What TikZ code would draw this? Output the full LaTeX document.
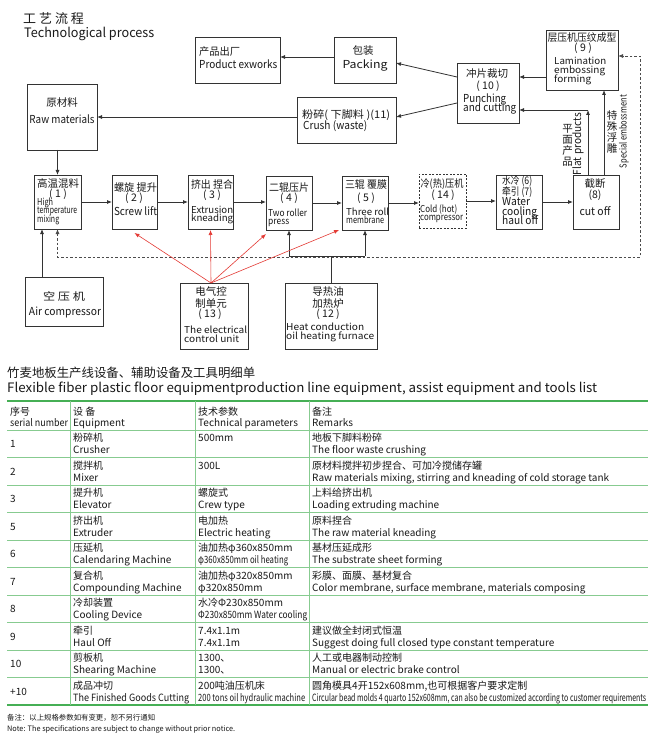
\documentclass[tikz,border=0pt]{standalone}
\usepackage{fontspec}
\setmainfont{Noto Sans CJK SC}
\usepackage{graphicx}
\usetikzlibrary{arrows.meta}
\definecolor{ared}{RGB}{228,58,52}
\definecolor{tgreen}{RGB}{70,175,85}
\definecolor{ink}{RGB}{25,25,25}
\newcommand\fitw[2]{\resizebox{#1pt}{\height}{#2}}
\newcommand\mybox[6][]{\node[bx,#1,minimum width={#5-#3},minimum height={#6-#4}] (#2) at (#3,#4) {};}
\newcommand\tline[5][]{\node[tx,#1] (#2) at (#3,#4) {#5};}
\newcommand\trow[9]{%
 \node[ten] (#1n) at (10,{#2+17.5}) {#3};
 \node[tcn] (#1a) at (73,{#2+11.5}) {#4};
 \node[ten] (#1b) at (73,{#2+23.5}) {#5};
 \node[tcn] (#1c) at (198,{#2+11.5}) {#6};
 \node[ten] (#1d) at (198,{#2+23.5}) {#7};
 \node[tcn] (#1e) at (312,{#2+11.5}) {#8};
 \node[ten] (#1f) at (312,{#2+23.5}) {#9};
}
\tikzset{
 bx/.style={draw=black!80, line width=0.9pt, inner sep=0pt, outer sep=0pt, anchor=north west},
 dbx/.style={dash pattern=on 2pt off 1.5pt},
 tx/.style={inner sep=0pt, anchor=base, text=ink, font=\fontsize{10.5}{12}\selectfont},
 txl/.style={anchor=base west},
 et/.style={font=\fontsize{11}{12}\selectfont},
 etl/.style={et, anchor=base west},
 es/.style={font=\fontsize{9.5}{10}\selectfont},
 esl/.style={es, anchor=base west},
 arr/.style={draw=black!80, line width=0.8pt, -{Latex[length=5pt,width=4pt]}},
 plain/.style={draw=black!80, line width=0.8pt},
 rarr/.style={draw=ared, line width=0.6pt, -{Latex[length=5pt,width=4pt]}},
 darr/.style={draw=black!70, line width=0.8pt, dash pattern=on 2.5pt off 2pt, {Latex[length=5pt,width=4pt]}-{Latex[length=5pt,width=4pt]}},
 gthick/.style={draw=tgreen, line width=1.6pt},
 gthin/.style={draw=tgreen!65, line width=0.7pt},
 tcn/.style={tx, anchor=base west, font=\fontsize{10}{11}\selectfont},
 ten/.style={tx, anchor=base west, font=\fontsize{10}{11}\selectfont},
}
\begin{document}
\begin{tikzpicture}[x=1pt,y=-1pt]
\fill[white] (0,0) rectangle (650,743);
\path[use as bounding box] (0,0) rectangle (650,743);

% titles
\tline[txl,font=\fontsize{13}{14}\selectfont]{ttlA}{23}{24}{工 艺 流 程}
\tline[txl,font=\fontsize{13}{14}\selectfont]{ttlB}{24}{37.5}{\fitw{130}{Technological process}}

% top boxes
\mybox{prod}{195}{37}{280}{83}
\tline[txl]{prodA}{199}{56}{\fitw{41}{产品出厂}}
\tline[etl]{prodB}{199}{69}{\fitw{78}{Product exworks}}

\mybox{pack}{334}{37}{396}{83}
\tline{packA}{363}{55}{包装}
\tline[et]{packB}{365}{69}{\fitw{45}{Packing}}

\mybox{lam}{546}{30}{618}{90}
\tline{lamA}{582}{42}{\fitw{69}{层压机压纹成型}}
\tline{lamB}{583}{51.5}{( 9 )}
\tline[esl]{lamC}{554}{64.5}{\fitw{52}{Lamination}}
\tline[esl]{lamD}{554}{73.5}{\fitw{51}{embossing}}
\tline[esl]{lamE}{554}{82.5}{\fitw{37}{forming}}

\mybox{punch}{457}{63}{519}{123}
\tline{punA}{487}{78}{冲片裁切}
\tline{punB}{488}{90}{( 10 )}
\tline[etl]{punC}{463}{102.5}{\fitw{43}{Punching}}
\tline[etl]{punD}{463}{112}{\fitw{53}{and cutting}}

\mybox{crush}{297}{97}{396}{143}
\tline[txl]{cruA}{302}{119}{\fitw{88}{粉碎( 下脚料 )(11)}}
\tline[etl]{cruB}{303}{130}{\fitw{64}{Crush (waste)}}

\mybox{raw}{27}{84}{97}{150}
\tline{rawA}{62}{107}{原材料}
\tline[et]{rawB}{62}{124}{\fitw{65}{Raw materials}}

% middle row
\mybox{b1}{34}{175}{81}{229}
\tline{b1A}{58}{188}{\fitw{42}{高温混料}}
\tline{b1B}{58}{197}{( 1 )}
\tline[esl]{b1C}{37}{205.5}{\fitw{16}{High}}
\tline[esl]{b1D}{37}{214}{\fitw{40}{temperature}}
\tline[esl]{b1E}{37}{222.5}{\fitw{22}{mixing}}

\mybox{b2}{112}{175}{157}{229}
\tline{b2A}{135.5}{191}{\fitw{43}{螺旋 提升}}
\tline{b2B}{134}{202}{( 2 )}
\tline[et]{b2C}{135.5}{216}{\fitw{43}{Screw lift}}

\mybox{b3}{188}{175}{233}{229}
\tline{b3A}{212}{189}{\fitw{42}{挤出 捏合}}
\tline{b3B}{212}{199}{( 3 )}
\tline[esl]{b3C}{191}{213.5}{\fitw{42}{Extrusion}}
\tline[esl]{b3D}{191}{222}{\fitw{42}{kneading}}

\mybox{b4}{266}{176}{312}{230}
\tline{b4A}{289}{191}{\fitw{40}{二辊压片}}
\tline{b4B}{289}{202}{( 4 )}
\tline[esl]{b4C}{268}{217}{\fitw{39}{Two roller}}
\tline[esl]{b4D}{268}{225}{\fitw{21}{press}}

\mybox{b5}{342}{176}{388}{230}
\tline{b5A}{366}{189}{\fitw{42}{三辊 覆膜}}
\tline{b5B}{366}{201}{( 5 )}
\tline[esl]{b5C}{346}{215}{\fitw{43}{Three roll}}
\tline[esl]{b5D}{346}{223}{\fitw{38}{membrane}}

\mybox[dbx]{b14}{419}{174}{466}{228}
\tline{b14A}{442}{188}{\fitw{43}{冷(热)压机}}
\tline{b14B}{443}{199}{( 14 )}
\tline[esl]{b14C}{420}{213}{\fitw{37}{Cold (hot)}}
\tline[esl]{b14D}{420}{221}{\fitw{43}{compressor}}

\mybox{b67}{496}{175}{542}{229}
\tline[txl]{b67A}{502}{185}{\fitw{30}{水冷 (6)}}
\tline[txl]{b67B}{502}{196}{\fitw{30}{牵引 (7)}}
\tline[etl]{b67C}{502}{206}{\fitw{28}{Water}}
\tline[etl]{b67D}{502}{215.5}{\fitw{35}{cooling}}
\tline[etl]{b67E}{502}{225}{\fitw{36}{haul off}}

\mybox{b8}{573}{175}{619}{229}
\tline{b8A}{595}{188}{截断}
\tline{b8B}{595}{199}{(8)}
\tline[et]{b8C}{595}{215}{\fitw{31}{cut off}}

% bottom boxes
\mybox{air}{25}{277}{103}{326}
\tline{airA}{64}{300}{\fitw{42}{空 压 机}}
\tline[et]{airB}{65}{315}{\fitw{72}{Air compressor}}

\mybox{ecu}{180}{283}{248}{349}
\tline{ecuA}{211}{295}{电气控}
\tline{ecuB}{211}{307}{制单元}
\tline{ecuC}{210}{317}{( 13 )}
\tline[esl]{ecuD}{184}{333.5}{\fitw{63}{The electrical}}
\tline[esl]{ecuE}{184}{342}{\fitw{55}{control unit}}

\mybox{heat}{285}{283}{377}{349}
\tline{heatA}{328}{295}{导热油}
\tline{heatB}{328}{307}{加热炉}
\tline{heatC}{328}{317}{( 12 )}
\tline[esl]{heatD}{286}{330.5}{\fitw{78}{Heat conduction}}
\tline[esl]{heatE}{286}{339}{\fitw{88}{oil heating furnace}}

% rotated labels
\node[tx, anchor=center, align=center, font=\fontsize{10.5}{11}\selectfont] (flatcn) at (567.5,145) {平\\面\\产\\品};
\node[tx, et, anchor=center, rotate=90] (flaten) at (578,144) {\fitw{62}{Flat products}};
\node[tx, anchor=center, align=center, font=\fontsize{10.5}{11}\selectfont] (specn) at (612,132.5) {特\\殊\\浮\\雕};
\node[tx, es, anchor=center, rotate=90] (speen) at (624,131.5) {\fitw{73}{Special embossment}};

% connectors (top)
\draw[arr] ([yshift=3pt]pack.west) -- ([yshift=3pt]pack.west -| prod.east);
\draw[arr] ([yshift=16pt]punch.west) -- ([yshift=-3pt]pack.east);
\draw[arr] ([yshift=-10pt]punch.west) -- ([yshift=3pt]crush.east);
\draw[arr] ([yshift=16pt]punch.east -| lam.west) -- ([yshift=16pt]punch.east);
\draw[arr] ([yshift=3pt]crush.west) -- ([yshift=3pt]crush.west -| raw.east);
\draw[arr] (raw.south -| b1.north) -- (b1.north);

% middle row
\draw[arr] (b1.east) -- (b2.west);
\draw[arr] (b2.east) -- (b3.west);
\draw[arr] (b3.east) -- (b3.east -| b4.west);
\draw[arr] (b4.east) -- (b4.east -| b5.west);
\draw[arr] (b5.east) -- (b5.east -| b14.west);
\draw[arr] (b14.east) -- (b14.east -| b67.west);
\draw[arr] (b67.east) -- (b8.west);

% cut off outputs
\coordinate (fp) at (588,110);
\draw[arr] (b8.north -| fp) -- (fp);
\draw[arr] (fp) -- (fp -| punch.east);
\draw[arr] ([xshift=8pt]b8.north) -- ([xshift=8pt]b8.north |- lam.south);

% air compressor
\draw[arr] ([xshift=-15.5pt]b1.south |- air.north) -- ([xshift=-15.5pt]b1.south);

% dashed loop
\coordinate (dr) at (640,257);
\draw[darr] (b1.south) -- (b1.south |- dr) -- (dr) -- ([yshift=4pt]lam.east -| dr) -- ([yshift=4pt]lam.east);

% heat
\coordinate (hj) at (331,256);
\draw[plain] (heat.north) -- (heat.north |- hj);
\draw[plain] (b4.south |- hj) -- (b5.south |- hj);
\draw[arr] (b4.south |- hj) -- (b4.south);
\draw[arr] (b5.south |- hj) -- (b5.south);

% electrical control
\draw[rarr] ([xshift=-3pt]ecu.north) -- ([yshift=-4pt]b2.south);
\draw[rarr] ([xshift=-3pt]ecu.north) -- ([yshift=-1pt]b3.south);
\draw[rarr] ([xshift=-3pt]ecu.north) -- ([yshift=-4pt]b4.south west);
\draw[rarr] ([xshift=-3pt]ecu.north) -- ([xshift=-3pt]b5.south west);

% table heading
\node[tx, txl, font=\fontsize{12.4}{13}\selectfont] (thA) at (7,377) {竹麦地板生产线设备、辅助设备及工具明细单};
\node[tx, txl, font=\fontsize{13}{14}\selectfont] (thB) at (7,392.5) {\fitw{590}{Flexible fiber plastic floor equipmentproduction line equipment, assist equipment and tools list}};

% table rules
\draw[gthick] (7,401) -- (648,401);
\foreach \yy in {430,457.5,485,512.5,540,567.5,595,622.5,650,677.5} \draw[gthin] (7,\yy) -- (648,\yy);
\draw[gthick] (7,705) -- (648,705);
\foreach \xx in {70,195,309} \draw[gthin] (\xx,401) -- (\xx,705);

% header
\node[tcn] (hA) at (10,415) {序号};
\node[ten] (hB) at (10,426.5) {\fitw{58}{serial number}};
\node[tcn] (hC) at (73,415) {设 备};
\node[ten] (hD) at (73,426.5) {Equipment};
\node[tcn] (hE) at (198,415) {技术参数};
\node[ten] (hF) at (198,426.5) {Technical parameters};
\node[tcn] (hG) at (312,415) {备注};
\node[ten] (hH) at (312,426.5) {Remarks};

\trow{ra}{430}{1}{粉碎机}{Crusher}{500mm}{}{地板下脚料粉碎}{The floor waste crushing}
\trow{rb}{457.5}{2}{搅拌机}{Mixer}{300L}{}{原材料搅拌初步捏合、可加冷搅储存罐}{Raw materials mixing, stirring and kneading of cold storage tank}
\trow{rc}{485}{3}{提升机}{Elevator}{螺旋式}{Crew type}{上料给挤出机}{Loading extruding machine}
\trow{rd}{512.5}{5}{挤出机}{Extruder}{电加热}{Electric heating}{原料捏合}{The raw material kneading}
\trow{re}{540}{6}{压延机}{Calendaring Machine}{油加热φ360x850mm}{\fitw{90}{φ360x850mm oil heating}}{基材压延成形}{The substrate sheet forming}
\trow{rf}{567.5}{7}{复合机}{Compounding Machine}{油加热φ320x850mm}{φ320x850mm}{彩膜、面膜、基材复合}{Color membrane, surface membrane, materials composing}
\trow{rg}{595}{8}{冷却装置}{Cooling Device}{水冷Φ230x850mm}{\fitw{109}{Φ230x850mm Water cooling}}{}{}
\trow{rh}{622.5}{9}{牵引}{Haul Off}{7.4x1.1m}{7.4x1.1m}{建议做全封闭式恒温}{Suggest doing full closed type constant temperature}
\trow{ri}{650}{10}{剪板机}{Shearing Machine}{1300、}{1300、}{人工或电器制动控制}{Manual or electric brake control}
\trow{rj}{677.5}{+10}{成品冲切}{\fitw{116}{The Finished Goods Cutting}}{200吨油压机床}{\fitw{107}{200 tons oil hydraulic machine}}{圆角模具4开152x608mm,也可根据客户要求定制}{\fitw{334}{Circular bead molds 4 quarto 152x608mm, can also be customized according to customer requirements}}

% footnote
\node[tx, txl, font=\fontsize{7.4}{8}\selectfont] (fnA) at (7,720) {备注：以上规格参数如有变更，恕不另行通知};
\node[tx, txl, font=\fontsize{7.5}{8}\selectfont] (fnB) at (7,731) {\fitw{228}{Note: The specifications are subject to change without prior notice.}};
\end{tikzpicture}
\end{document}
